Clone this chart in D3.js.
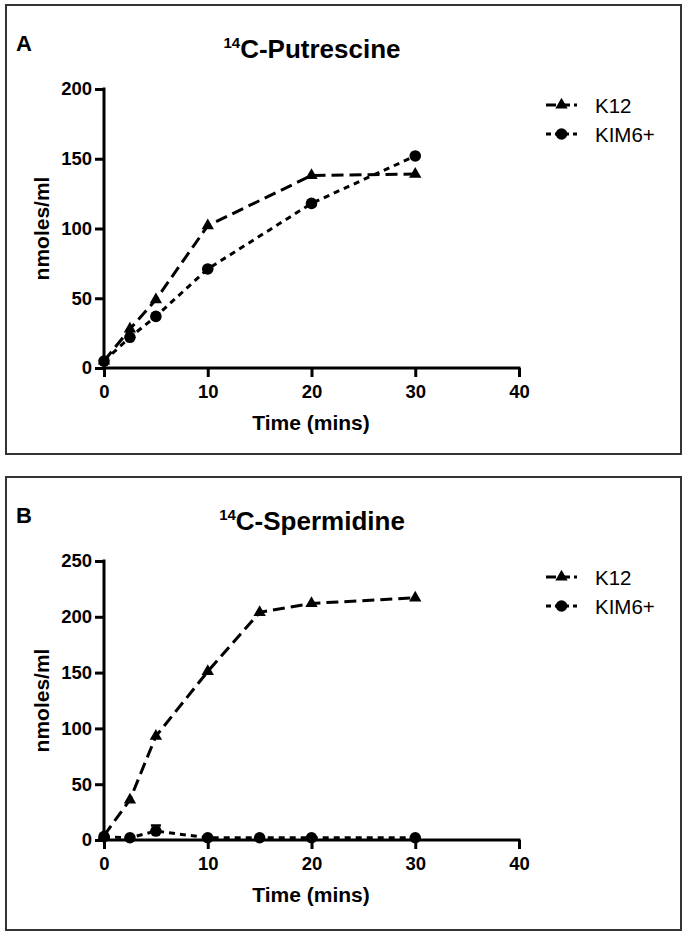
<!DOCTYPE html>
<html><head><meta charset="utf-8">
<script src="https://cdn.jsdelivr.net/npm/d3@7"></script>
<style>
body{margin:0;background:#fff;}
svg{display:block;}
</style></head>
<body>
<svg id="chart" width="689" height="936"></svg>
<script>
// ---- data ----
const timeA = [0, 2.5, 5, 10, 20, 30];
const putK12 = [5, 28, 49, 102, 138, 139];
const putKIM = [5, 22, 37, 71, 118, 152];

const timeB = [0, 2.5, 5, 10, 15, 20, 30];
const speK12 = [4, 36, 93, 151, 204, 212, 217];
const speKIM = [3, 2, 8, 2, 2, 2, 2];
const speKIMErr = [0, 0, 5, 0, 0, 0, 0];

const xTicks = [0, 10, 20, 30, 40];
const yTicksA = [0, 50, 100, 150, 200];
const yTicksB = [0, 50, 100, 150, 200, 250];

const seriesNames = ["K12", "KIM6+"];
const panelLetters = ["A", "B"];
const panelTitles = ["Putrescine", "Spermidine"];
const xLabel = "Time (mins)";
const yLabel = "nmoles/ml";

// ---- drawing ----
const svg = d3.select("#chart");
const sans = "'Liberation Sans',Arial,Helvetica,sans-serif";

const panels = [
  {top: 5, bottom: 454, letter: panelLetters[0], title: panelTitles[0], yMax: 200, yTicks: yTicksA,
   series: [
     {name: seriesNames[0], x: timeA, y: putK12, err: null, shape: "tri", dash: "12,6"},
     {name: seriesNames[1], x: timeA, y: putKIM, err: null, shape: "circ", dash: "6,5"}
   ]},
  {top: 477, bottom: 930, letter: panelLetters[1], title: panelTitles[1], yMax: 250, yTicks: yTicksB,
   series: [
     {name: seriesNames[0], x: timeB, y: speK12, err: null, shape: "tri", dash: "12,6"},
     {name: seriesNames[1], x: timeB, y: speKIM, err: speKIMErr, shape: "circ", dash: "6,5"}
   ]}
];

function marker(sel, shape, x, y) {
  if (shape === "tri") {
    sel.append("path")
      .attr("d", d3.symbol().type(d3.symbolTriangle).size(66)())
      .attr("transform", `translate(${x},${y})`)
      .attr("fill", "#000");
  } else {
    sel.append("circle").attr("cx", x).attr("cy", y).attr("r", 5.8).attr("fill", "#000");
  }
}

panels.forEach(p => {
  const g = svg.append("g");
  // frame
  g.append("rect").attr("x", 6).attr("y", p.top).attr("width", 675).attr("height", p.bottom - p.top)
    .attr("fill", "none").attr("stroke", "#333").attr("stroke-width", 2);

  const plotTop = p.top + 84, plotBottom = p.top + 363;
  const x = d3.scaleLinear().domain([0, 40]).range([104, 519]);
  const y = d3.scaleLinear().domain([0, p.yMax]).range([plotBottom, plotTop]);

  // letter
  g.append("text").attr("x", 16).attr("y", p.top + 46).text(p.letter)
    .attr("font-family", sans).attr("font-weight", "bold").attr("font-size", 22);

  // title with superscript
  const t = g.append("text").attr("x", 312).attr("y", p.top + 53).attr("text-anchor", "middle")
    .attr("font-family", sans).attr("font-weight", "bold").attr("font-size", 26);
  t.append("tspan").text("14").attr("font-size", 15).attr("dy", -10);
  t.append("tspan").text("C-" + p.title).attr("dy", 10);

  // axes
  const yAxis = d3.axisLeft(y).tickValues(p.yTicks).tickSize(9).tickPadding(3);
  const xAxis = d3.axisBottom(x).tickValues(xTicks).tickSize(9).tickPadding(8);
  const ya = g.append("g").attr("transform", "translate(104,0)").call(yAxis);
  const xa = g.append("g").attr("transform", `translate(0,${plotBottom})`).call(xAxis);
  [ya, xa].forEach(a => {
    a.select(".domain").remove();
    a.selectAll(".tick line").attr("stroke", "#000").attr("stroke-width", 3);
    a.selectAll(".tick text").attr("fill", "#000").attr("font-family", sans)
      .attr("font-weight", "bold").attr("font-size", 18.5);
  });
  // axis lines
  g.append("line").attr("x1", 104).attr("x2", 104).attr("y1", plotTop - 1.5).attr("y2", plotBottom + 1.5)
    .attr("stroke", "#000").attr("stroke-width", 3);
  g.append("line").attr("x1", 102.5).attr("x2", 520.5).attr("y1", plotBottom).attr("y2", plotBottom)
    .attr("stroke", "#000").attr("stroke-width", 3);

  // axis labels
  g.append("text").attr("x", 311).attr("y", plotBottom + 62).attr("text-anchor", "middle")
    .text(xLabel).attr("font-family", sans).attr("font-weight", "bold").attr("font-size", 21);
  g.append("text").attr("transform", `translate(49,${(plotTop + plotBottom) / 2}) rotate(-90)`)
    .attr("text-anchor", "middle").text(yLabel)
    .attr("font-family", sans).attr("font-weight", "bold").attr("font-size", 21);

  // series
  p.series.forEach(s => {
    const pts = s.x.map((xv, i) => [x(xv), y(s.y[i])]);
    if (s.err) {
      s.err.forEach((e, i) => {
        if (e > 0) {
          const cx = x(s.x[i]), top = y(s.y[i] + e);
          g.append("line").attr("x1", cx).attr("x2", cx).attr("y1", y(s.y[i])).attr("y2", top)
            .attr("stroke", "#000").attr("stroke-width", 2.5);
          g.append("line").attr("x1", cx - 5).attr("x2", cx + 5).attr("y1", top).attr("y2", top)
            .attr("stroke", "#000").attr("stroke-width", 2.5);
        }
      });
    }
    g.append("path").attr("d", d3.line()(pts)).attr("fill", "none").attr("stroke", "#000")
      .attr("stroke-width", 3).attr("stroke-dasharray", s.dash);
    pts.forEach(pt => marker(g, s.shape, pt[0], pt[1]));
  });

  // legend
  p.series.forEach((s, i) => {
    const ly = p.top + 100 + i * 29;
    g.append("line").attr("x1", 546).attr("x2", 577).attr("y1", ly).attr("y2", ly)
      .attr("stroke", "#000").attr("stroke-width", 3).attr("stroke-dasharray", s.shape === "tri" ? "10,4" : "5,4");
    marker(g, s.shape, 561.5, ly);
    g.append("text").attr("x", 595).attr("y", ly + 7.5).text(s.name)
      .attr("font-family", sans).attr("font-size", 20.5);
  });
});
</script>
</body></html>
